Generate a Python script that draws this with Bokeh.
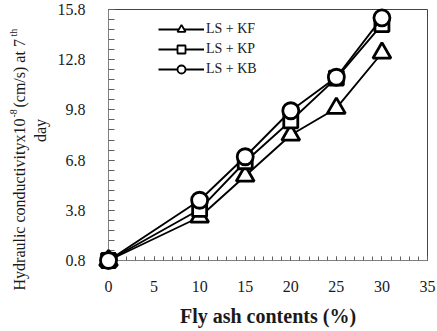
import math

from bokeh.plotting import figure
from bokeh.models import (ColumnDataSource, FixedTicker, Legend, LegendItem,
                          Range1d)
from bokeh.core.properties import value
from bokeh.embed import file_html
from bokeh.resources import INLINE

# Hydraulic conductivity (x10^-8 cm/s) after 7 days vs fly ash content (%)
fly_ash = [0, 10, 15, 20, 25, 30]
ls_kf = [0.8, 3.4, 5.85, 8.3, 9.9, 13.2]
ls_kp = [0.8, 3.85, 6.7, 9.15, 11.7, 14.9]
ls_kb = [0.8, 4.4, 7.0, 9.75, 11.75, 15.3]

series_names = ["LS + KF", "LS + KP", "LS + KB"]
x_ticks = [0, 5, 10, 15, 20, 25, 30, 35]
y_ticks = [0.8, 3.8, 6.8, 9.8, 12.8, 15.8]

FONT = "Liberation Serif"
W, H = 437, 331
LEFT, RIGHT, TOP, BOTTOM = 108, 10, 9, 71
X0, X1, Y0, Y1 = 0, 35, 0.8, 15.8

p = figure(width=W, height=H, output_backend="svg", toolbar_location=None,
           x_range=Range1d(X0, X1), y_range=Range1d(Y0, Y1),
           min_border_left=LEFT, min_border_right=RIGHT,
           min_border_top=TOP, min_border_bottom=BOTTOM)
p.background_fill_color = "white"
p.border_fill_color = "white"
p.outline_line_color = "#444444"
p.outline_line_width = 1
p.xgrid.visible = False
p.ygrid.visible = False

# axes: ticks pointing into the frame
p.xaxis.ticker = FixedTicker(ticks=x_ticks, minor_ticks=list(range(0, 36)))
p.yaxis.ticker = FixedTicker(ticks=y_ticks,
                             minor_ticks=[round(0.8 + 0.6 * i, 2) for i in range(26)])
for ax in (p.xaxis[0], p.yaxis[0]):
    ax.axis_line_color = "#808080"
    ax.major_tick_line_color = "#606060"
    ax.minor_tick_line_color = "#606060"
    ax.major_tick_out = 0
    ax.minor_tick_out = 0
    ax.major_label_text_font = FONT
    ax.major_label_text_font_size = "16px"
    ax.major_label_text_color = "#1a1a1a"
p.xaxis.major_tick_in = 4
p.xaxis.minor_tick_in = 4
p.yaxis.major_tick_in = 6
p.yaxis.minor_tick_in = 6
p.xaxis.major_label_standoff = 20
p.yaxis.major_label_standoff = 23

p.xaxis.axis_label = "Fly ash contents (%)"
p.xaxis.axis_label_text_font = FONT
p.xaxis.axis_label_text_font_style = "bold"
p.xaxis.axis_label_text_font_size = "20px"
p.xaxis.axis_label_text_color = "#1a1a1a"
p.xaxis.axis_label_standoff = 10

# series: line + large open marker (overlay level so edge markers are not clipped)
src = ColumnDataSource(dict(x=fly_ash, kf=ls_kf, kp=ls_kp, kb=ls_kb))
styles = [("kf", "triangle", 18), ("kp", "square", 14), ("kb", "circle", 16)]
legend_items = []
for name, (col, marker, size) in zip(series_names, styles):
    # small marker for the legend swatch; hidden beneath the large markers
    key = p.scatter("x", col, source=src, marker=marker, size=9,
                    fill_color="white", line_color="black", line_width=1.8)
    ln = p.line("x", col, source=src, line_color="black", line_width=1.9,
                level="overlay")
    p.scatter("x", col, source=src, marker=marker, size=size,
              fill_color="white", line_color="black", line_width=2.8,
              level="overlay")
    legend_items.append(LegendItem(label=name, renderers=[ln, key]))

# legend box: rows centred at y = 29, 49, 69 px, swatches from x = 158 px
legend = Legend(items=legend_items, location=(50, H - BOTTOM - 79),
                glyph_width=46, glyph_height=20, label_height=20,
                spacing=0, padding=0, margin=0, label_standoff=2,
                border_line_color=None, background_fill_alpha=0,
                label_text_font=FONT, label_text_font_size="14px",
                label_text_color="#1a1a1a")
p.add_layout(legend, "center")

# rotated y-axis title with superscripts, positioned in canvas pixels
frame_w = W - LEFT - RIGHT
frame_h = H - TOP - BOTTOM


def dx(px):
    return X0 + (px - LEFT) * (X1 - X0) / frame_w


def dy(py):
    return Y0 + (H - BOTTOM - py) * (Y1 - Y0) / frame_h


title_parts = [
    ("Hydraulic conductivityx10", 19, 290, "16px", "left"),
    ("-8", 13, 117, "10px", "left"),
    (" (cm/s) at 7", 19, 107, "16px", "left"),
    ("th", 13, 36, "10px", "left"),
    ("day", 40, 130, "16px", "center"),
]
for txt, px, py, fs, align in title_parts:
    p.text(x=[dx(px)], y=[dy(py)], text=[txt], angle=math.pi / 2,
           text_align=align, text_baseline="middle",
           text_font=value(FONT), text_font_size=fs,
           text_color="#1a1a1a", level="overlay")

open("out.html", "w").write(file_html(p, INLINE))
